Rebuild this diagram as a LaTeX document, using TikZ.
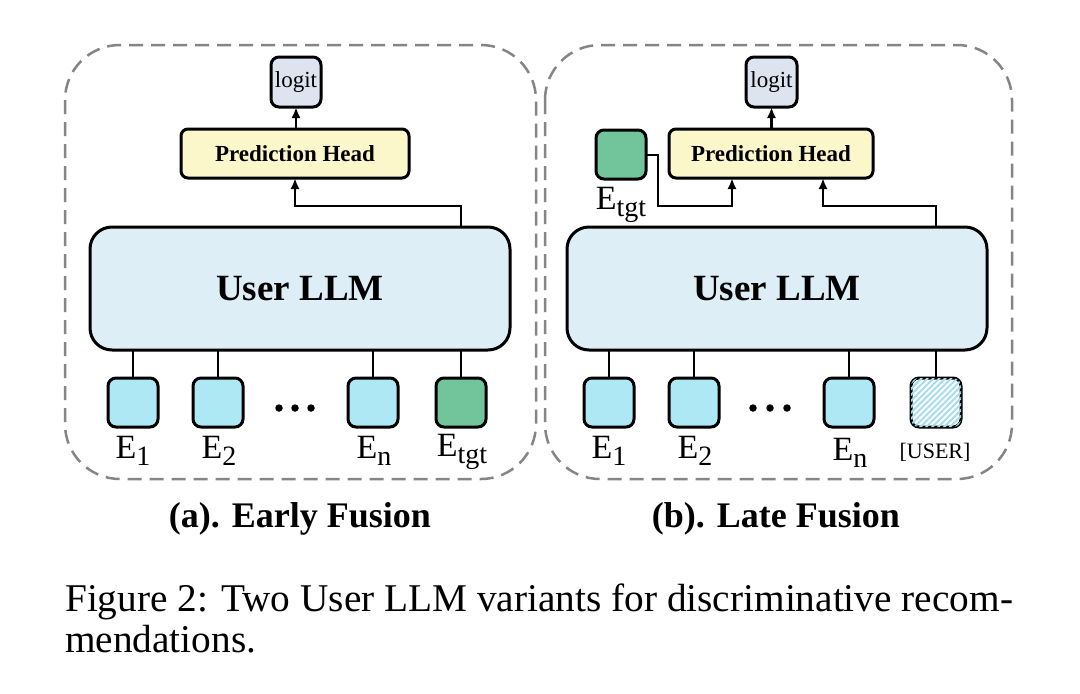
\documentclass[tikz,border=0pt]{standalone}
\usepackage{fontspec}
\setmainfont{Liberation Serif}
\usetikzlibrary{arrows.meta,patterns.meta}
\definecolor{logitc}{HTML}{DDE3EF}
\definecolor{predc}{HTML}{FBF7CB}
\definecolor{llmc}{HTML}{DDEEF7}
\definecolor{embc}{HTML}{ADE8F4}
\definecolor{tgtc}{HTML}{72C49A}
\definecolor{hatchc}{HTML}{A6DEEE}
\definecolor{dashc}{HTML}{858585}
\newcommand{\esub}[1]{\raisebox{-7pt}{\fontsize{28}{30}\selectfont #1}}
\tikzset{
  box/.style={draw=black, line width=3pt, inner sep=0pt, outer sep=0pt},
  logitbox/.style={box, fill=logitc, rounded corners=8pt, minimum width=50pt, minimum height=50pt, font=\fontsize{23}{26}\selectfont},
  predbox/.style={box, fill=predc, rounded corners=7pt, minimum height=49pt, font=\fontsize{23}{26}\selectfont\bfseries},
  llmbox/.style={box, fill=llmc, rounded corners=22pt, minimum width=420pt, minimum height=123pt, font=\fontsize{37}{40}\selectfont\bfseries},
  embbox/.style={box, fill=embc, rounded corners=8pt, minimum width=50pt, minimum height=49pt},
  tgtbox/.style={embbox, fill=tgtc},
  userbox/.style={embbox, fill=white, postaction={pattern={Lines[angle=45,distance=4.2pt,line width=2pt]}, pattern color=hatchc}},
  elabel/.style={anchor=base, inner sep=0pt, font=\fontsize{34}{36}\selectfont},
  panel/.style={draw=dashc, line width=2.5pt, dash pattern=on 14pt off 8pt, rounded corners=55pt},
  conn/.style={draw=black, line width=2.6pt},
  arr/.style={conn, -{Latex[length=11pt,width=9pt]}},
  dotc/.style={fill=black, circle, inner sep=0pt, minimum size=7.5pt},
  title/.style={anchor=base, inner sep=0pt, font=\fontsize{36}{38}\selectfont\bfseries},
  captxt/.style={anchor=base west, inner sep=0pt, font=\fontsize{39.3}{42}\selectfont},
}
\begin{document}
\begin{tikzpicture}[x=1pt,y=-1pt]
\useasboundingbox[fill=white] (0,0) rectangle (1080,694);
% panels
\draw[panel] (65,45) rectangle (536,479);
\draw[panel] (545,45) rectangle (1012,479);

% ---------- (a) Early Fusion ----------
\node[logitbox] (logitA) at (296,82) {logit};
\node[predbox, minimum width=228pt] (predA) at (295,153.5) {Prediction Head};
\node[llmbox] (llmA) at (300,288.5) {User LLM};
\node[embbox] (e1A) at (133,402.5) {};
\node[embbox] (e2A) at (218,402.5) {};
\node[embbox] (enA) at (373,402.5) {};
\node[tgtbox] (etA) at (461,402.5) {};
\node[dotc] (dA1) at (279,408) {};
\node[dotc] (dA2) at (295,408) {};
\node[dotc] (dA3) at (311,408) {};
\node[elabel] (l1A) at (133,458) {E\esub{1}};
\node[elabel] (l2A) at (219,458) {E\esub{2}};
\node[elabel] (lnA) at (374,458) {E\esub{n}};
\node[elabel] (ltA) at (462,456) {E\esub{tgt}};
\foreach \n in {e1A,e2A,enA,etA}{\draw[conn] (\n.north) -- (\n.north |- llmA.south);}
\coordinate (jA) at (461,206);
\draw[arr] (llmA.north -| jA) -- (jA) -| (predA.south);
\draw[arr] (predA.north -| logitA.south) -- (logitA.south);

% ---------- (b) Late Fusion ----------
\node[logitbox, minimum width=51pt] (logitB) at (771.5,82) {logit};
\node[predbox, minimum width=204pt] (predB) at (771,153.5) {Prediction Head};
\node[tgtbox] (etB) at (621,154.5) {};
\node[elabel] (ltB) at (621,209) {E\esub{tgt}};
\node[llmbox] (llmB) at (777,288.5) {User LLM};
\node[embbox] (e1B) at (609,402.5) {};
\node[embbox] (e2B) at (694,402.5) {};
\node[embbox] (enB) at (849,402.5) {};
\node[userbox] (uB) at (936,402.5) {};
\node[dotc] (dB1) at (753,408) {};
\node[dotc] (dB2) at (770,408) {};
\node[dotc] (dB3) at (787,408) {};
\node[elabel] (l1B) at (609,458) {E\esub{1}};
\node[elabel] (l2B) at (695,458) {E\esub{2}};
\node[elabel] (lnB) at (850,460) {E\esub{n}};
\node[elabel, font=\fontsize{22}{24}\selectfont] (luB) at (935,458) {[USER]};
\foreach \n in {e1B,e2B,enB,uB}{\draw[conn] (\n.north) -- (\n.north |- llmB.south);}
\coordinate (tB1) at (658,155);
\coordinate (tB2) at (732,206);
\draw[arr] (etB.east |- tB1) -- (tB1) |- (tB2) -- (tB2 |- predB.south);
\coordinate (jB) at (936,206);
\coordinate (pB) at (823,206);
\draw[arr] (llmB.north -| jB) -- (jB) -- (pB) -- (pB |- predB.south);
\draw[arr] (predB.north -| logitB.south) -- (logitB.south);

% titles
\node[title] (tA) at (300,527) {(a). Early Fusion};
\node[title] (tBt) at (776,527) {(b). Late Fusion};
% caption
\node[captxt] (cap1) at (65,611) {Figure 2: Two User LLM variants for discriminative recom-};
\node[captxt] (cap2) at (65,652) {mendations.};
\end{tikzpicture}
\end{document}
